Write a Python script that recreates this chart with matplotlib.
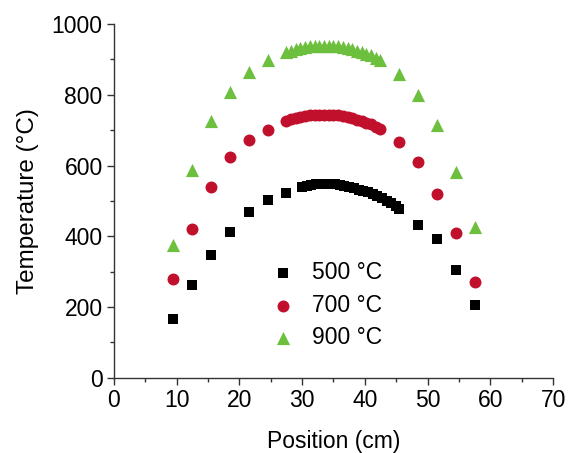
import matplotlib.pyplot as plt
from matplotlib.ticker import MultipleLocator

plt.rcParams['font.family'] = ['Liberation Sans', 'DejaVu Sans']

# isolated points (every 3 cm) on both flanks
x_side = [9.5, 12.5, 15.5, 18.5, 21.5, 24.5, 27.5]
x_tail = [45.5, 48.5, 51.5, 54.5, 57.5]

# 500 C
x500_mid = [30.0, 30.75, 31.5, 32.25, 33.0, 33.75, 34.5, 35.25, 36.0, 36.75, 37.5,
            38.25, 39.0, 39.75, 40.5, 41.25, 42.0, 42.75, 43.5, 44.25, 45.0]
t500_side = [165, 263, 347, 412, 468, 502, 522]
t500_mid = [539, 542, 545, 547, 548, 549, 549, 548, 546, 543, 540,
            536, 532, 528, 524, 519, 514, 508, 501, 494, 486]
t500_tail = [478, 432, 392, 305, 206]

# 700 C
x700_mid = [28.25, 29.0, 29.75, 30.5, 31.25, 32.0, 32.75, 33.5, 34.25, 35.0, 35.75,
            36.5, 37.25, 38.0, 38.75, 39.5, 40.25, 41.0, 41.75, 42.5]
t700_side = [280, 422, 540, 625, 672, 700, 726]
t700_mid = [731, 735, 738, 740, 742, 743, 744, 744, 744, 743, 742,
            740, 737, 734, 730, 726, 721, 716, 710, 704]
t700_tail = [667, 610, 520, 410, 271]

# 900 C
x900_mid = [28.25, 29.0, 29.75, 30.5, 31.25, 32.0, 32.75, 33.5, 34.25, 35.0, 35.75,
            36.5, 37.25, 38.0, 38.75, 39.5, 40.25, 41.0, 41.75, 42.5]
t900_side = [375, 587, 727, 808, 865, 898, 921]
t900_mid = [925, 929, 932, 935, 937, 938, 939, 939, 939, 938, 937,
            935, 932, 929, 925, 921, 916, 911, 905, 898]
t900_tail = [860, 800, 715, 582, 427]

fig = plt.figure(figsize=(5.69, 4.53), dpi=100)
ax = fig.add_axes([0.2, 0.166, 0.772, 0.781])

ax.scatter(x_side + x500_mid + x_tail, t500_side + t500_mid + t500_tail,
           marker='s', s=52, color='black', linewidths=0, label='500 °C', zorder=3)
ax.scatter(x_side + x700_mid + x_tail, t700_side + t700_mid + t700_tail,
           marker='o', s=74, color='#c0102c', linewidths=0, label='700 °C', zorder=3)
ax.scatter(x_side + x900_mid + x_tail, t900_side + t900_mid + t900_tail,
           marker='^', s=90, color='#6dbf3e', linewidths=0, label='900 °C', zorder=3)

ax.set_xlim(0, 70)
ax.set_ylim(0, 1000)
ax.xaxis.set_major_locator(MultipleLocator(10))
ax.xaxis.set_minor_locator(MultipleLocator(5))
ax.yaxis.set_major_locator(MultipleLocator(200))
ax.yaxis.set_minor_locator(MultipleLocator(100))

for side in ['top', 'right']:
    ax.spines[side].set_visible(False)
for side in ['left', 'bottom']:
    ax.spines[side].set_color('#333333')
    ax.spines[side].set_linewidth(1.0)
ax.tick_params(which='major', direction='out', length=5, width=1, color='#333333',
               labelsize=16.5, pad=3)
ax.tick_params(which='minor', direction='out', length=3, width=1, color='#333333')

ax.set_xlabel('Position (cm)', fontsize=16.5, labelpad=13)
ax.set_ylabel('Temperature (°C)', fontsize=17.5, labelpad=9)

ax.legend(loc='upper left', bbox_to_anchor=(0.334, 0.33), frameon=False,
          fontsize=16.5, borderaxespad=0, borderpad=0, handletextpad=0.25,
          labelspacing=0.42, scatterpoints=1)

fig.savefig('out.png', dpi=100)
